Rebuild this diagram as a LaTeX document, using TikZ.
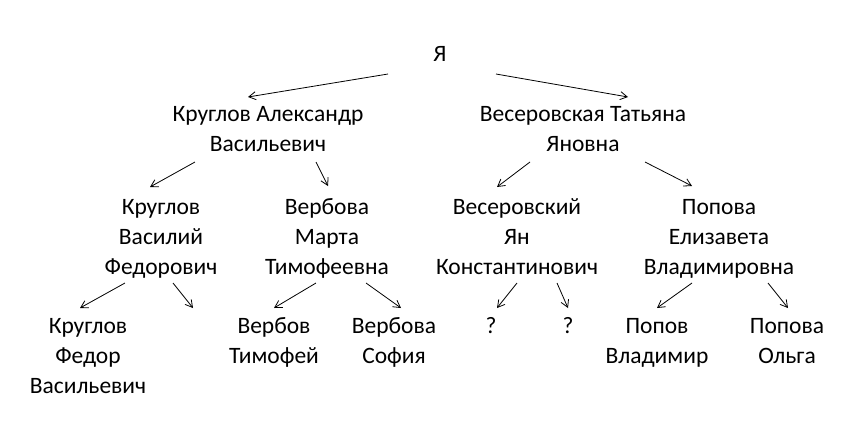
\documentclass[tikz,border=0pt]{standalone}
\usepackage{fontspec}
\setmainfont{Carlito}
\usetikzlibrary{arrows.meta}
\begin{document}
\begin{tikzpicture}[x=1pt,y=-1pt,
  lbl/.style={align=center,font=\fontsize{23.5}{30}\selectfont,inner sep=0pt},
  arr/.style={-{Straight Barb[length=7pt,width=8pt]},line width=0.8pt}]
\useasboundingbox (0,0) rectangle (849,440);
\node[lbl] (me) at (440,55) {\strut Я};
\node[lbl] (ka) at (268,130) {\strut Круглов Александр\\\strut Васильевич};
\node[lbl] (vt) at (583,130) {\strut Весеровская Татьяна\\\strut Яновна};
\node[lbl] (kv) at (161,238) {\strut Круглов\\\strut Василий\\\strut Федорович};
\node[lbl] (vm) at (327,238) {\strut Вербова\\\strut Марта\\\strut Тимофеевна};
\node[lbl] (vy) at (517,238) {\strut Весеровский\\\strut Ян\\\strut Константинович};
\node[lbl] (pe) at (719,238) {\strut Попова\\\strut Елизавета\\\strut Владимировна};
\node[lbl] (kf) at (88,357) {\strut Круглов\\\strut Федор\\\strut Васильевич};
\node[lbl] (vtim) at (274,342) {\strut Вербов\\\strut Тимофей};
\node[lbl] (vs) at (394,342) {\strut Вербова\\\strut София};
\node[lbl] (q1) at (491,327) {\strut ?};
\node[lbl] (q2) at (568,327) {\strut ?};
\node[lbl] (pv) at (657,342) {\strut Попов\\\strut Владимир};
\node[lbl] (po) at (787,342) {\strut Попова\\\strut Ольга};
\draw[arr] (388,74) -- (248,97);
\draw[arr] (496,74) -- (628,97);
\draw[arr] (195,162) -- (150,187);
\draw[arr] (316,162) -- (328,186);
\draw[arr] (530,162) -- (497,187);
\draw[arr] (645,162) -- (692,186);
\draw[arr] (125,283) -- (80,308);
\draw[arr] (173,283) -- (193,308);
\draw[arr] (316,283) -- (274,308);
\draw[arr] (366,283) -- (401,308);
\draw[arr] (517,283) -- (497,308);
\draw[arr] (557,283) -- (568,308);
\draw[arr] (692,283) -- (657,308);
\draw[arr] (768,283) -- (788,308);
\end{tikzpicture}
\end{document}
